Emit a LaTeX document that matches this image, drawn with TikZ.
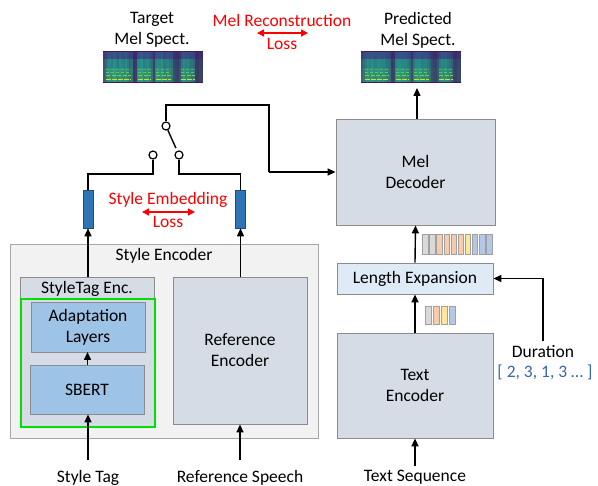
\documentclass[tikz,border=0pt]{standalone}
\usepackage{fontspec}
\setmainfont{Carlito}
\usetikzlibrary{arrows.meta}

\definecolor{boxgray}{HTML}{D6DCE5}
\definecolor{boxline}{HTML}{8C8C8C}
\definecolor{outerfill}{HTML}{F2F2F2}
\definecolor{outerline}{HTML}{A6A6A6}
\definecolor{midblue}{HTML}{9DC3E6}
\definecolor{paleblue}{HTML}{DEEBF7}
\definecolor{barblue}{HTML}{2E75B6}
\definecolor{bardark}{HTML}{1F4E79}
\definecolor{tgreen}{HTML}{00E000}
\definecolor{durblue}{HTML}{3A66AE}
\definecolor{tokgray}{HTML}{D9D9D9}
\definecolor{tokorange}{HTML}{F8CBAD}
\definecolor{tokyellow}{HTML}{FFE699}
\definecolor{tokblue}{HTML}{B4C7E7}
\definecolor{tokline}{HTML}{A0A0A0}
\definecolor{vDark}{HTML}{3E1A5E}
\definecolor{vBlue}{HTML}{33709A}
\definecolor{vTeal}{HTML}{23A08E}
\definecolor{vTealG}{HTML}{2FAE80}
\definecolor{vGreen}{HTML}{6CD05A}
\definecolor{vYellow}{HTML}{D2E21B}

\tikzset{
  base/.style={draw=boxline, line width=0.8pt, inner sep=0pt, align=center},
  graybox/.style={base, fill=boxgray},
  bluebox/.style={base, fill=midblue},
  palebox/.style={base, fill=paleblue},
  embbar/.style={draw=bardark, fill=barblue, line width=0.6pt, minimum width=10pt, minimum height=38pt, inner sep=0pt},
  lbl/.style={inner sep=0pt, align=center},
  redlbl/.style={lbl, text=red},
  wire/.style={line width=1.4pt, black},
  arr/.style={wire, -{Triangle[length=8pt,width=7pt]}},
  lossarr/.style={line width=1.4pt, red, {Triangle[length=7pt,width=7pt]}-{Triangle[length=7pt,width=7pt]}},
  term/.style={circle, draw, fill=white, line width=1.2pt, minimum size=8pt, inner sep=0pt},
  tok/.style={draw=tokline, line width=0.5pt}
}

% mel spectrogram: top-left corner, column energies (2pt columns), voiced spans
\newcommand\melspec[3]{%
  \begin{scope}[shift={#1}]
    \fill[vDark] (0,0) rectangle (100,32);
    \foreach \e [count=\i from 0] in {#2}{
      \pgfmathtruncatemacro\eh{0.8*\e}
      \pgfmathsetmacro\xa{2*\i}
      \pgfmathsetmacro\xb{min(2*\i+2.8,100)}
      \fill[vBlue!\eh!vDark] (\xa,1.5) rectangle (\xb,9);
      \fill[vTeal!\e!vDark] (\xa,8.5) rectangle (\xb,18);
      \fill[vTealG!\e!vDark] (\xa,17.5) rectangle (\xb,31);
    }
    \foreach \a/\b in {#3}{
      \draw[vYellow, line width=1.3pt, dash pattern=on 5pt off 1pt] (\a,28.5) -- (\b,28.5);
      \draw[vGreen, line width=1pt, dash pattern=on 4pt off 1.5pt] (\a,25) -- (\b,25);
      \draw[vGreen!80!vTeal, line width=0.9pt, dash pattern=on 3pt off 2pt] (\a,21.5) -- (\b,21.5);
      \draw[vGreen!50!vTeal, line width=0.8pt, dash pattern=on 3pt off 2pt] (\a,18) -- (\b,18);
    }
  \end{scope}}

\begin{document}
\begin{tikzpicture}[x=1pt, y=-1pt, every node/.style={font=\fontsize{17.5}{21}\selectfont}]
\useasboundingbox (0,0) rectangle (598,486);

% ---------- spectrograms and reconstruction loss ----------
\node[lbl] (tgtlbl) at (152,30) {Target\\Mel Spect.};
\melspec{(103,51)}{45,60,80,85,75,90,85,70,88,80,75,85,70,60,65,20,25,80,85,90,75,80,85,70,60,30,75,85,80,90,70,75,80,70,65,35,30,25,40,70,85,75,80,70,65,60,25,20,30,25}{3/28,35/48,53/68,78/92}
\node[inner sep=0pt, minimum width=100pt, minimum height=32pt] (tgtspec) at (153,67) {};

\node[lbl] (predlbl) at (418,30) {Predicted\\Mel Spect.};
\melspec{(361,51)}{50,65,75,85,80,88,80,75,85,82,78,80,72,65,60,25,30,78,85,88,80,82,80,72,62,35,70,82,85,88,75,78,78,72,60,38,32,30,45,72,82,78,82,72,68,55,30,25,35,30}{4/28,35/48,53/68,78/92}
\node[inner sep=0pt, minimum width=98pt, minimum height=32pt] (predspec) at (410,67) {};

\node[redlbl] (reclbl) at (282,20) {Mel Reconstruction};
\node[redlbl] (recloss) at (282,44) {Loss};
\coordinate (recL) at (257,33);
\coordinate (recR) at (308,33);
\draw[lossarr] (recL) -- (recR);

% ---------- right branch ----------
\node[graybox, minimum width=159pt, minimum height=106pt] (md) at (415.5,172) {Mel\\Decoder};
\node[palebox, minimum width=156pt, minimum height=31pt] (le) at (415,278.5) {Length Expansion};
\node[graybox, minimum width=156pt, minimum height=105pt] (te) at (415,385.5) {Text\\Encoder};
\node[lbl] (tseq) at (415,477) {Text Sequence};
\node[lbl] (dur) at (543,352) {Duration};
\node[lbl, text=durblue] (durval) at (545,372) {[ 2, 3, 1, 3 … ]};

\draw[arr] (md.north -| 417,0) -- (417,88);
\draw[arr] (le.north) -- (md.south);
\draw[arr] (te.north) -- (le.south);
\draw[arr, shorten <=4pt] (tseq.north) -- (te.south);
\draw[arr, shorten <=5pt] (dur.north) |- (le.east);

% expanded and phoneme-level token strips
\foreach \c [count=\i from 0] in {tokgray,tokgray,tokorange,tokorange,tokorange,tokorange,tokyellow,tokblue,tokblue,tokblue}{
  \filldraw[tok, fill=\c] (422.5+7.1*\i,234) rectangle (428+7.1*\i,254);
}
\foreach \c [count=\i from 0] in {tokgray,tokorange,tokyellow,tokblue}{
  \filldraw[tok, fill=\c] (425.5+8*\i,306) rectangle (431.5+8*\i,324);
}

% ---------- style encoder ----------
\node[draw=outerline, fill=outerfill, line width=0.8pt, minimum width=308pt, minimum height=194pt, inner sep=0pt] (se) at (164,341) {};
\node[lbl] (selbl) at (164,256) {Style Encoder};
\node[graybox, minimum width=134pt, minimum height=150pt] (ste) at (87,352) {};
\node[lbl] (stelbl) at (87,289) {StyleTag Enc.};
\node[draw=tgreen, line width=1.6pt, minimum width=134pt, minimum height=128pt, inner sep=0pt] (trainable) at (88,363) {};
\node[bluebox, minimum width=114pt, minimum height=50pt] (adapt) at (88,327) {Adaptation\\Layers};
\node[bluebox, minimum width=114pt, minimum height=49pt] (sbert) at (87,389.5) {SBERT};
\node[graybox, minimum width=134pt, minimum height=147pt] (re) at (240,350.5) {Reference\\Encoder};

\node[lbl] (tag) at (88,478) {Style Tag};
\node[lbl] (refsp) at (240,478) {Reference Speech};
\draw[arr, shorten <=10pt] (tag.north) -- (tag.north |- sbert.south);
\draw[arr] (sbert.north -| 87.5,0) -- (87.5,352);
\draw[arr, shorten <=10pt] (refsp.north) -- (re.south);

% style embeddings
\node[embbar] (embL) at (88,209) {};
\node[embbar] (embR) at (240.5,209) {};
\draw[arr] (88,277) -- (embL.south);
\draw[arr] (240.5,277) -- (embR.south);

\node[redlbl] (selbl2) at (168,200) {Style Embedding};
\node[redlbl] (seloss) at (168,222) {Loss};
\coordinate (seL) at (142,212);
\coordinate (seR) at (195,212);
\draw[lossarr] (seL) -- (seR);

% ---------- selector switch ----------
\node[term] (ctop) at (166,126) {};
\node[term] (cleft) at (153,155) {};
\node[term] (cright) at (179,155) {};
\draw[wire, shorten >=3pt] (ctop) -- (cright);
\draw[wire] (ctop.north) -- (166,105) -- (269,105) -- (269,172);
\draw[arr] (269,172) -- (md.west);
\draw[wire] (cleft.south) -- (153,174) -- (88,174) -- (embL.north);
\draw[wire] (cright.south) -- (179,174) -- (240.5,174) -- (embR.north);
\end{tikzpicture}
\end{document}
